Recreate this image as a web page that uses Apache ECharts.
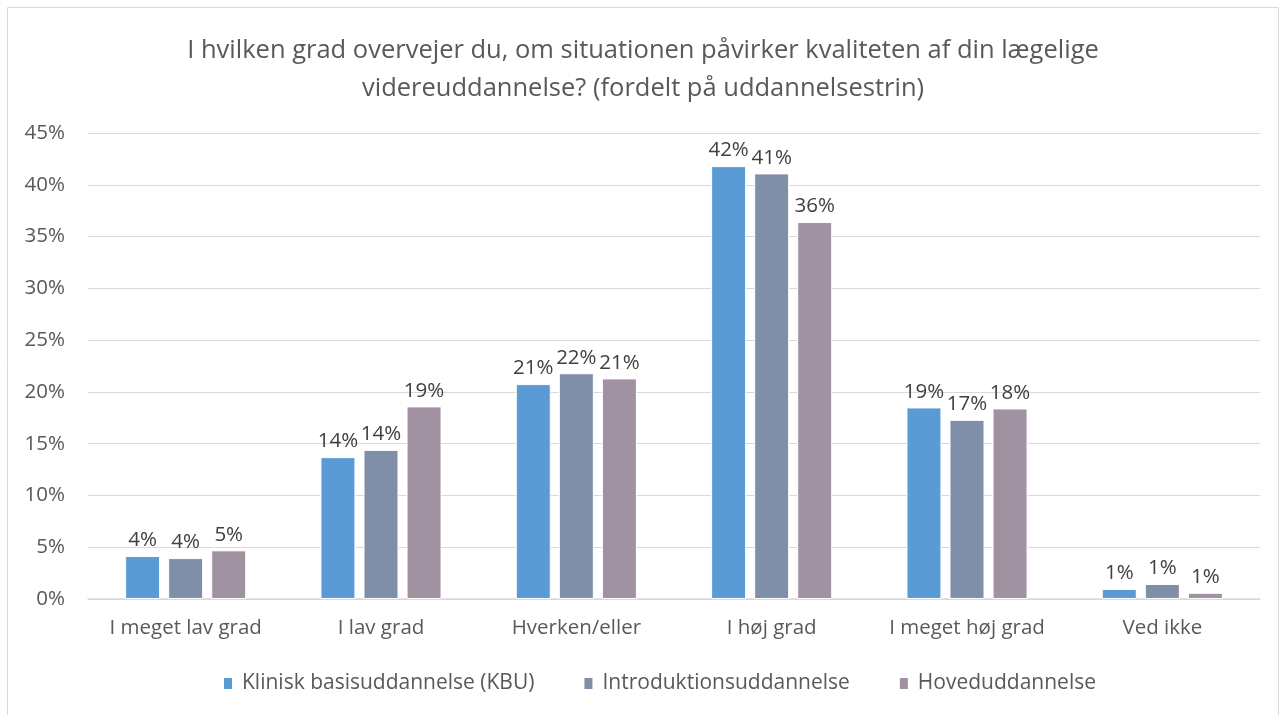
<!DOCTYPE html>
<html>
<head>
<meta charset="utf-8">
<script src="https://cdn.jsdelivr.net/npm/echarts@6/dist/echarts.min.js"></script>
<style>
  html, body { margin: 0; padding: 0; background: #fff; }
  #chart { width: 1286px; height: 715px; }
</style>
</head>
<body>
<div id="chart"></div>
<script>
// Categories and series (percent values)
const categories = ['I meget lav grad', 'I lav grad', 'Hverken/eller', 'I høj grad', 'I meget høj grad', 'Ved ikke']
const kbu = [4.15, 13.7, 20.75, 41.8, 18.5, 0.97]
const intro = [3.95, 14.4, 21.8, 41.1, 17.3, 1.45]
const hoved = [4.7, 18.6, 21.3, 36.4, 18.4, 0.6]
const seriesNames = ['Klinisk basisuddannelse (KBU)', 'Introduktionsuddannelse', 'Hoveduddannelse']
const colors = ['#5B9BD5', '#7F8FAA', '#A092A0']

const font = '"Open Sans", sans-serif'
const chart = echarts.init(document.getElementById('chart'), undefined, { renderer: 'canvas' })

const mkSeries = (name, data, i) => ({
  name, type: 'bar', data,
  barWidth: 35,
  barGap: '23%',
  itemStyle: { color: colors[i], borderColor: '#fff', borderWidth: 1 },
  label: {
    show: true, position: 'top', distance: 5,
    color: '#404040', fontSize: 20.5, fontFamily: font,
    formatter: p => Math.round(p.value) + '%',
  },
})

chart.setOption({
  animation: false,
  title: {
    text: 'I hvilken grad overvejer du, om situationen påvirker kvaliteten af din lægelige\nvidereuddannelse? (fordelt på uddannelsestrin)',
    left: 'center', top: 27,
    textStyle: { color: '#595959', fontSize: 25.5, fontWeight: 'normal', fontFamily: font, lineHeight: 38 },
  },
  graphic: [{
    type: 'rect', silent: true, z: -1,
    shape: { x: 7.5, y: 7.5, width: 1271, height: 720 },
    style: { fill: 'none', stroke: '#d9d9d9', lineWidth: 1 },
  }],
  legend: {
    data: seriesNames,
    bottom: 16, left: 217,
    itemWidth: 10, itemHeight: 13, itemGap: 48,
    icon: 'rect',
    textStyle: { color: '#595959', fontSize: 21, fontFamily: font, padding: [0, 0, 0, 4] },
  },
  grid: { left: 88, right: 26, top: 133, bottom: 116 },
  xAxis: {
    type: 'category', data: categories,
    axisLine: { lineStyle: { color: '#d9d9d9', width: 1.5 } },
    axisTick: { show: false },
    axisLabel: { color: '#595959', fontSize: 20.5, fontFamily: font, margin: 19, interval: 0 },
  },
  yAxis: {
    type: 'value', min: 0, max: 45, interval: 5,
    axisLine: { show: false },
    axisTick: { show: false },
    splitLine: { lineStyle: { color: '#d9d9d9', width: 1 } },
    axisLabel: { color: '#595959', fontSize: 20.5, fontFamily: font, margin: 23, formatter: v => v + '%' },
  },
  series: [mkSeries(seriesNames[0], kbu, 0), mkSeries(seriesNames[1], intro, 1), mkSeries(seriesNames[2], hoved, 2)],
})
</script>
</body>
</html>
